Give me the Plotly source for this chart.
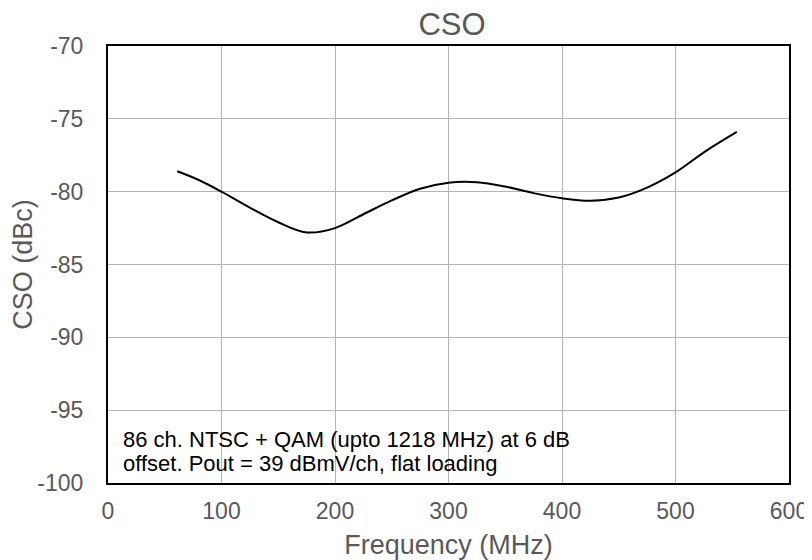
import plotly.graph_objects as go

freq_mhz = [61, 80, 100, 125, 150, 175, 200, 225, 250, 275, 300, 325, 350, 375, 400, 425, 450, 475, 500, 525, 554]
cso_dbc = [-78.6, -79.2, -80.0, -81.1, -82.1, -82.8, -82.5, -81.55, -80.6, -79.8, -79.38, -79.35, -79.65, -80.1, -80.45, -80.62, -80.4, -79.72, -78.68, -77.3, -75.9]

x_ticks = [0, 100, 200, 300, 400, 500, 600]
y_ticks = [-100, -95, -90, -85, -80, -75, -70]

note_lines = ["86 ch. NTSC + QAM (upto 1218 MHz) at 6 dB", "offset. Pout = 39 dBmV/ch, flat loading"]

FONT = "Liberation Sans, Arial, sans-serif"
GREY = "#595959"

# page has an 8px body margin; figure sized to fill the rest of the window
W, H = 804, 552
L, T, R, B = 100, 38, 23, 77
PW, PH = W - L - R, H - T - B

fig = go.Figure()
fig.add_trace(go.Scatter(x=freq_mhz, y=cso_dbc, mode="lines",
                         line=dict(color="black", width=2, shape="spline", smoothing=1.0),
                         showlegend=False, hoverinfo="skip"))

annots = []
for i, line in enumerate(note_lines):
    center_page_y = 439 + 24 * i
    annots.append(dict(text=line, xref="paper", yref="paper",
                       x=(121 - 108) / PW, y=(483 - center_page_y) / PH,
                       xanchor="left", yanchor="middle", align="left", showarrow=False,
                       font=dict(size=22, color="black", family=FONT)))

fig.update_layout(
    width=W, height=H,
    margin=dict(l=L, r=R, t=T, b=B, pad=0),
    paper_bgcolor="white", plot_bgcolor="white",
    font=dict(family=FONT, color=GREY),
    title=dict(text="CSO", x=(452 - 8) / W, xanchor="center",
               y=1 - (24 - 8) / H, yanchor="middle",
               font=dict(size=31, color=GREY, family=FONT)),
    xaxis=dict(range=[0, 600], tickvals=x_ticks, ticktext=[str(v) for v in x_ticks],
               showgrid=True, gridcolor="#b3b3b3", gridwidth=1,
               showline=True, linecolor="black", linewidth=2, mirror=True,
               ticks="", zeroline=False, automargin=False,
               tickfont=dict(size=23, color=GREY, family=FONT),
               ticklabelstandoff=6,
               title=dict(text="Frequency (MHz)", font=dict(size=27, color=GREY, family=FONT), standoff=15)),
    yaxis=dict(range=[-100, -70], tickvals=y_ticks, ticktext=[str(v) for v in y_ticks],
               showgrid=True, gridcolor="#b3b3b3", gridwidth=1,
               showline=True, linecolor="black", linewidth=2, mirror=True,
               ticks="", zeroline=False, automargin=False,
               tickfont=dict(size=23, color=GREY, family=FONT),
               ticklabelstandoff=18,
               title=dict(text="CSO (dBc)", font=dict(size=27, color=GREY, family=FONT), standoff=2)),
    annotations=annots,
)

fig.write_html("out.html")
